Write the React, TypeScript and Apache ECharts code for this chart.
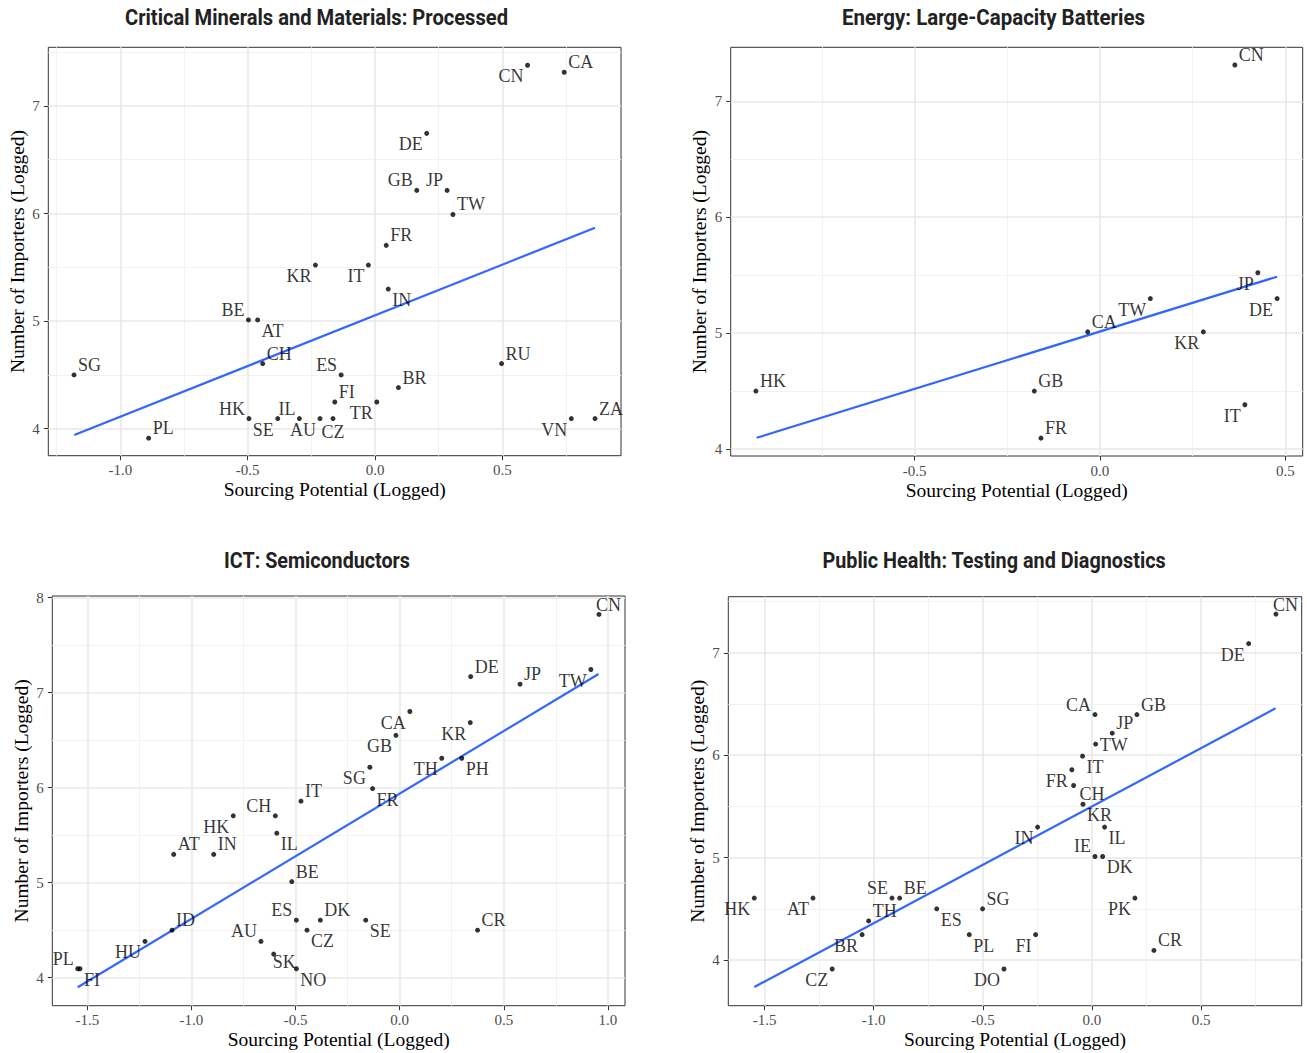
import React, { useEffect, useRef } from "react";
import * as echarts from "echarts";

// ---------- Panel 1: Critical Minerals and Materials: Processed ----------
const cmmTitle = "Critical Minerals and Materials: Processed";
const cmmCodes = ["CN", "CA", "DE", "GB", "JP", "TW", "FR", "KR", "IT", "IN", "BE", "AT", "CH", "SG", "ES", "RU", "BR", "FI", "TR", "HK", "SE", "IL", "AU", "CZ", "PL", "VN", "ZA"];
const cmmX = [0.599, 0.743, 0.203, 0.164, 0.283, 0.306, 0.044, -0.234, -0.026, 0.052, -0.497, -0.461, -0.441, -1.182, -0.133, 0.497, 0.092, -0.158, 0.007, -0.495, -0.382, -0.297, -0.216, -0.165, -0.889, 0.771, 0.864];
const cmmY = [7.378, 7.313, 6.745, 6.215, 6.215, 5.991, 5.704, 5.521, 5.521, 5.298, 5.011, 5.011, 4.605, 4.5, 4.5, 4.605, 4.382, 4.248, 4.248, 4.094, 4.094, 4.094, 4.094, 4.094, 3.912, 4.094, 4.094];
const cmmTrend = [[-1.181, 3.941], [0.864, 5.868]];
const cmmXMajor = [-1.0, -0.5, 0.0, 0.5];
const cmmXMinor = [-1.25, -0.75, -0.25, 0.25, 0.75];
const cmmYMajor = [4, 5, 6, 7];
const cmmYMinor = [4.5, 5.5, 6.5, 7.5];

// ---------- Panel 2: Energy: Large-Capacity Batteries ----------
const batTitle = "Energy: Large-Capacity Batteries";
const batCodes = ["CN", "JP", "DE", "TW", "CA", "KR", "HK", "GB", "FR", "IT"];
const batX = [0.364, 0.426, 0.478, 0.136, -0.033, 0.279, -0.928, -0.177, -0.159, 0.391];
const batY = [7.313, 5.521, 5.298, 5.298, 5.011, 5.011, 4.5, 4.5, 4.094, 4.382];
const batTrend = [[-0.926, 4.097], [0.478, 5.487]];
const batXMajor = [-0.5, 0.0, 0.5];
const batXMinor = [-0.75, -0.25, 0.25];
const batYMajor = [4, 5, 6, 7];
const batYMinor = [4.5, 5.5, 6.5];

// ---------- Panel 3: ICT: Semiconductors ----------
const semTitle = "ICT: Semiconductors";
const semCodes = ["CN", "TW", "DE", "JP", "CA", "KR", "GB", "TH", "PH", "SG", "FR", "IT", "HK", "CH", "IL", "AT", "IN", "BE", "ES", "DK", "SE", "CR", "CZ", "ID", "AU", "HU", "SK", "PL", "FI", "NO"];
const semX = [0.957, 0.918, 0.341, 0.578, 0.049, 0.339, -0.018, 0.202, 0.298, -0.143, -0.13, -0.474, -0.799, -0.597, -0.59, -1.085, -0.893, -0.518, -0.496, -0.381, -0.163, 0.374, -0.445, -1.093, -0.666, -1.223, -0.605, -1.546, -1.535, -0.496];
const semY = [7.824, 7.244, 7.17, 7.09, 6.802, 6.685, 6.551, 6.31, 6.31, 6.215, 5.991, 5.858, 5.704, 5.704, 5.521, 5.298, 5.298, 5.011, 4.605, 4.605, 4.605, 4.5, 4.5, 4.5, 4.382, 4.382, 4.248, 4.094, 4.094, 4.094];
const semTrend = [[-1.546, 3.899], [0.955, 7.197]];
const semXMajor = [-1.5, -1.0, -0.5, 0.0, 0.5, 1.0];
const semXMinor = [-1.25, -0.75, -0.25, 0.25, 0.75];
const semYMajor = [4, 5, 6, 7, 8];
const semYMinor = [4.5, 5.5, 6.5, 7.5];

// ---------- Panel 4: Public Health: Testing and Diagnostics ----------
const phTitle = "Public Health: Testing and Diagnostics";
const phCodes = ["CN", "DE", "CA", "GB", "JP", "TW", "IT", "FR", "CH", "KR", "IN", "IL", "IE", "DK", "HK", "AT", "SE", "BE", "PK", "SG", "ES", "TH", "BR", "PL", "FI", "CR", "CZ", "DO"];
const phX = [0.843, 0.718, 0.014, 0.206, 0.093, 0.017, -0.043, -0.092, -0.084, -0.041, -0.249, 0.058, 0.014, 0.049, -1.547, -1.278, -0.916, -0.881, 0.197, -0.501, -0.711, -1.023, -1.053, -0.562, -0.258, 0.284, -1.19, -0.403];
const phY = [7.378, 7.09, 6.397, 6.397, 6.215, 6.109, 5.991, 5.858, 5.704, 5.521, 5.298, 5.298, 5.011, 5.011, 4.605, 4.605, 4.605, 4.605, 4.605, 4.5, 4.5, 4.382, 4.248, 4.248, 4.248, 4.094, 3.912, 3.912];
const phTrend = [[-1.547, 3.736], [0.841, 6.458]];
const phXMajor = [-1.5, -1.0, -0.5, 0.0, 0.5];
const phXMinor = [-1.25, -0.75, -0.25, 0.25, 0.75];
const phYMajor = [4, 5, 6, 7];
const phYMinor = [4.5, 5.5, 6.5, 7.5];

const xTitle = "Sourcing Potential (Logged)";
const yTitle = "Number of Importers (Logged)";

// ---------- styling / layout (not data) ----------
const cmmLabelPos: any[] = ["ll", "ur", "ll", "ul", "ul", "ur", "ur", "ll", "ll", "lr", "ul", "lr", "ur", "ur", "ul", "ur", "ur", "ur", "ll", "ul", "ll", "ul", "ll", "b", "ur", "ll", "ur"];
const batLabelPos: any[] = ["ur", "ll", "ll", "ll", "ur", "ll", "ur", "ur", "ur", "ll"];
const semLabelPos: any[] = [["r", -7, -9], "ll", "ur", "ur", "ll", "ll", "ll", "ll", "lr", "ll", "lr", "ur", "ll", "ul", "lr", "ur", "ur", "ur", "ul", "ur", "lr", "ur", "lr", "ur", "ul", "ll", ["r", -5, 8], "ul", "lr", "lr"];
const phLabelPos: any[] = [["r", -7, -9], "ll", "ul", "ur", "ur", ["r", 0, 1], "lr", "ll", ["r", 2, 8], "lr", "ll", "lr", "ul", "lr", "ll", "ll", "ul", "ur", "ll", "ur", "lr", "ur", "ll", "lr", "ll", "ur", "ll", "ll"];

const panels = [
  { title: cmmTitle, codes: cmmCodes, xs: cmmX, ys: cmmY, trend: cmmTrend, xMajor: cmmXMajor, xMinor: cmmXMinor, yMajor: cmmYMajor, yMinor: cmmYMinor, pos: cmmLabelPos,
    rect: { left: 48.3, top: 47.3, width: 572.7, height: 408.4 }, xr: [-1.283, 0.966], yr: [3.749, 7.545], titleX: 316.5, titleY: 17, titleW: 383 },
  { title: batTitle, codes: batCodes, xs: batX, ys: batY, trend: batTrend, xMajor: batXMajor, xMinor: batXMinor, yMajor: batYMajor, yMinor: batYMinor, pos: batLabelPos,
    rect: { left: 730.7, top: 47.3, width: 572, height: 408.7 }, xr: [-0.996, 0.547], yr: [3.94, 7.466], titleX: 993.5, titleY: 17, titleW: 303 },
  { title: semTitle, codes: semCodes, xs: semX, ys: semY, trend: semTrend, xMajor: semXMajor, xMinor: semXMinor, yMajor: semYMajor, yMinor: semYMinor, pos: semLabelPos,
    rect: { left: 52.3, top: 596, width: 572.7, height: 409.7 }, xr: [-1.668, 1.082], yr: [3.705, 8.018], titleX: 317, titleY: 561, titleW: 186 },
  { title: phTitle, codes: phCodes, xs: phX, ys: phY, trend: phTrend, xMajor: phXMajor, xMinor: phXMinor, yMajor: phYMajor, yMinor: phYMinor, pos: phLabelPos,
    rect: { left: 728.3, top: 596.7, width: 573.4, height: 409 }, xr: [-1.666, 0.961], yr: [3.554, 7.548], titleX: 994, titleY: 561, titleW: 344 },
];

const SERIF = "'Liberation Serif', 'Times New Roman', 'DejaVu Serif', serif";
const TITLE_FAMILY = "Roboto";
const TITLE_SIZE = 22;

function labelFor(p: any) {
  if (Array.isArray(p)) return { position: "right", distance: 1.5, offset: [p[1], p[2]] };
  switch (p) {
    case "ur": return { position: "right", distance: 1.5, offset: [0, -10] };
    case "lr": return { position: "right", distance: 1.5, offset: [0, 11] };
    case "ul": return { position: "left", distance: 1.5, offset: [0, -10] };
    case "ll": return { position: "left", distance: 1.5, offset: [0, 11] };
    case "b": return { position: "bottom", distance: 2, offset: [0, 0] };
    default: return { position: "right", distance: 1.5 };
  }
}

function measure(text: string) {
  try {
    const ctx = document.createElement("canvas").getContext("2d");
    if (!ctx) return 0;
    ctx.font = `bold ${TITLE_SIZE}px ${TITLE_FAMILY}`;
    return ctx.measureText(text).width;
  } catch (e) {
    return 0;
  }
}

const MAJOR = { color: "#e9e9e9", width: 1.6, type: "solid" };
const MINOR = { color: "#f2f2f2", width: 1, type: "solid" };

function buildOption() {
  const grid: any[] = [];
  const xAxis: any[] = [];
  const yAxis: any[] = [];
  const series: any[] = [];
  const graphic: any[] = [];
  panels.forEach((p, i) => {
    grid.push({ ...p.rect, show: true, borderColor: "#333333", borderWidth: 1, backgroundColor: "#ffffff", containLabel: false, outerBoundsMode: "none" });
    const w = measure(p.title);
    const sx = w > 0 ? p.titleW / w : 0.82;
    graphic.push({
      type: "text", x: p.titleX, y: p.titleY, scaleX: sx, scaleY: 1, silent: true,
      style: { text: p.title, align: "center", verticalAlign: "middle", font: `bold ${TITLE_SIZE}px ${TITLE_FAMILY}`, fill: "#222222" },
    });
    xAxis.push({
      type: "value", gridIndex: i, min: p.xr[0], max: p.xr[1],
      axisLine: { show: false, onZero: false },
      axisTick: { show: true, length: 4.5, lineStyle: { color: "#333333", width: 1 }, customValues: p.xMajor },
      axisLabel: { show: true, customValues: p.xMajor, margin: 7, fontFamily: SERIF, fontSize: 15, color: "#4d4d4d", formatter: (v: number) => v.toFixed(1) },
      splitLine: { show: false }, minorSplitLine: { show: false },
      name: xTitle, nameLocation: "middle", nameGap: 24, nameMoveOverlap: false,
      nameTextStyle: { fontFamily: SERIF, fontSize: 19.5, color: "#000000" },
    });
    yAxis.push({
      type: "value", gridIndex: i, min: p.yr[0], max: p.yr[1],
      axisLine: { show: false, onZero: false },
      axisTick: { show: true, length: 4.5, lineStyle: { color: "#333333", width: 1 }, customValues: p.yMajor },
      axisLabel: { show: true, customValues: p.yMajor, margin: 8.5, fontFamily: SERIF, fontSize: 15, color: "#4d4d4d", formatter: (v: number) => String(Math.round(v)) },
      splitLine: { show: false }, minorSplitLine: { show: false },
      name: yTitle, nameLocation: "middle", nameGap: 21, nameMoveOverlap: false,
      nameTextStyle: { fontFamily: SERIF, fontSize: 19.5, color: "#000000" },
    });
    const gridLines = [
      ...p.xMinor.map((v) => ({ xAxis: v, lineStyle: MINOR })),
      ...p.yMinor.map((v) => ({ yAxis: v, lineStyle: MINOR })),
      ...p.xMajor.map((v) => ({ xAxis: v, lineStyle: MAJOR })),
      ...p.yMajor.map((v) => ({ yAxis: v, lineStyle: MAJOR })),
    ];
    series.push({
      type: "line", xAxisIndex: i, yAxisIndex: i, z: 1, silent: true, symbol: "none",
      data: p.trend, lineStyle: { opacity: 0 },
      markLine: { z: 1, zlevel: 0, silent: true, symbol: ["none", "none"], label: { show: false }, emphasis: { disabled: true }, animation: false, data: gridLines },
    });
    series.push({
      type: "line", xAxisIndex: i, yAxisIndex: i, z: 6, silent: true, symbol: "none",
      data: p.trend, lineStyle: { color: "#3366FF", width: 2.2 },
    });
    series.push({
      type: "scatter", xAxisIndex: i, yAxisIndex: i, z: 8, silent: true,
      symbolSize: 5, itemStyle: { color: "#000000" },
      label: { show: true, formatter: "{b}", fontFamily: SERIF, fontSize: 18, color: "#000000" },
      data: p.codes.map((c, k) => ({ name: c, value: [p.xs[k], p.ys[k]], label: { show: true, ...labelFor(p.pos[k]) } })),
    });
  });
  return { animation: false, backgroundColor: "#ffffff", graphic, grid, xAxis, yAxis, series };
}

export default function App() {
  const ref = useRef<HTMLDivElement>(null);
  useEffect(() => {
    document.body.style.margin = "0";
    if (!ref.current) return;
    const chart = echarts.init(ref.current, null, { renderer: "svg" });
    chart.setOption(buildOption() as any);
    return () => chart.dispose();
  }, []);
  return <div ref={ref} style={{ width: 1307, height: 1053 }} />;
}
